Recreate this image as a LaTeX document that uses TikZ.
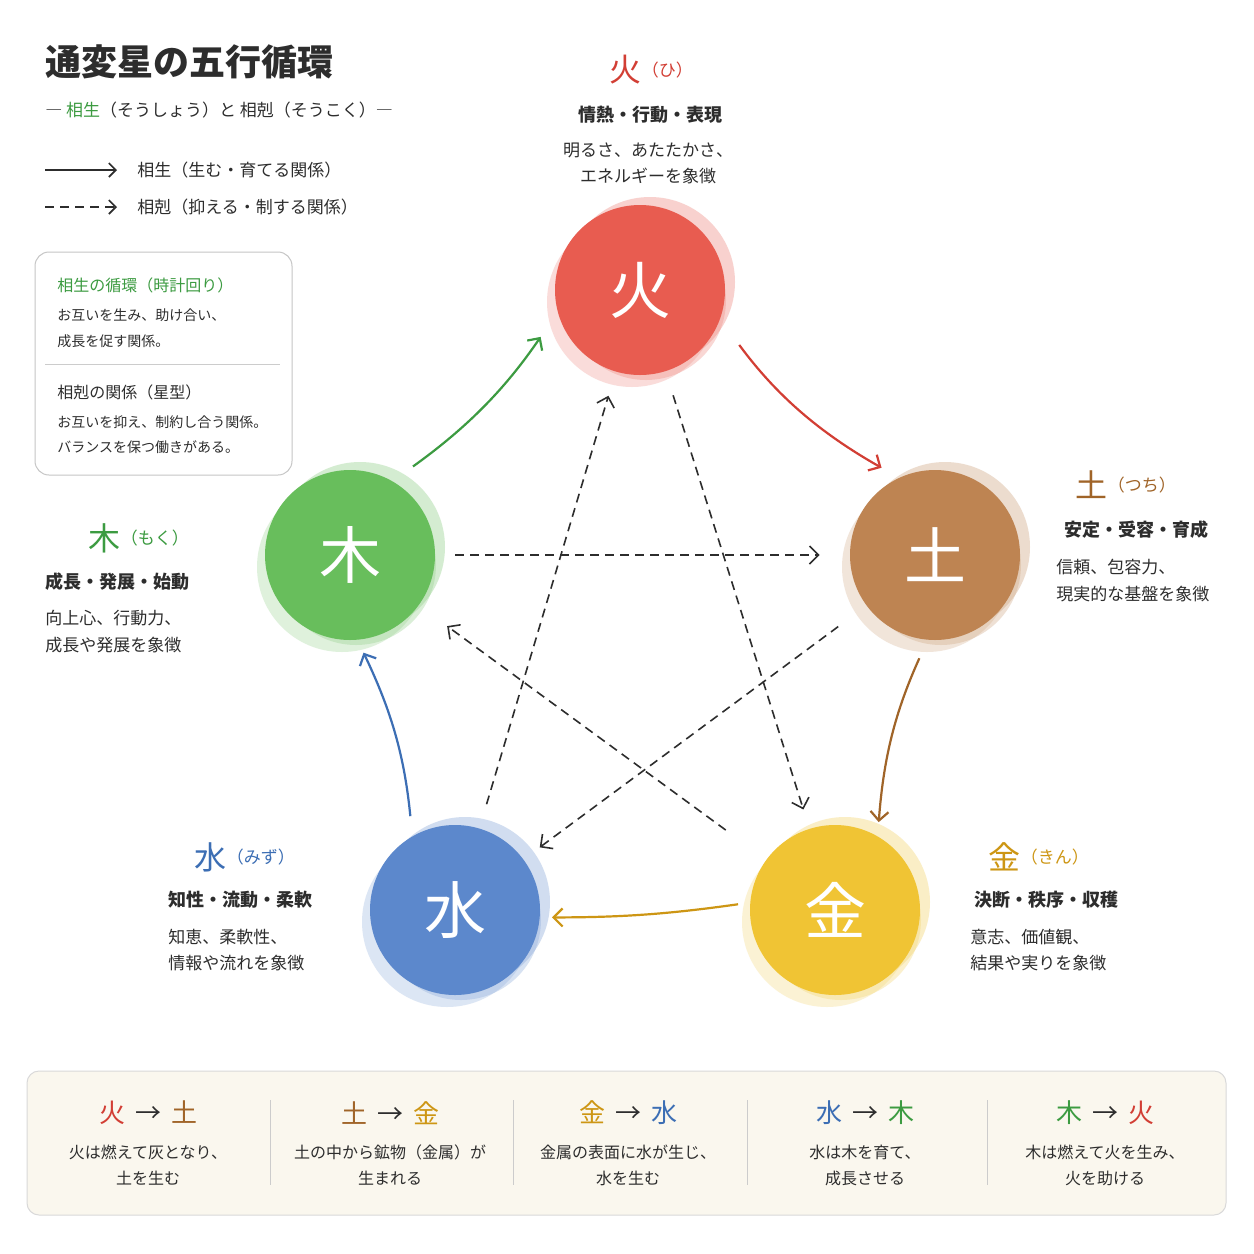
\documentclass[tikz,border=0pt]{standalone}
\usepackage{fontspec}
\setmainfont{Noto Sans CJK JP}
\usetikzlibrary{arrows.meta}
\definecolor{fireC}{RGB}{232,92,80}
\definecolor{earthC}{RGB}{190,132,82}
\definecolor{metalC}{RGB}{240,196,52}
\definecolor{waterC}{RGB}{92,136,204}
\definecolor{woodC}{RGB}{104,190,92}
\definecolor{fireT}{RGB}{210,62,52}
\definecolor{earthT}{RGB}{160,100,40}
\definecolor{metalT}{RGB}{205,150,20}
\definecolor{waterT}{RGB}{60,110,180}
\definecolor{woodT}{RGB}{60,155,65}
\definecolor{inkC}{RGB}{45,45,45}
\definecolor{panelC}{RGB}{250,247,238}
\newcommand{\fsz}[1]{\fontsize{#1}{#1}\selectfont}
\tikzset{every picture/.style={line width=0.75pt}}
\tikzset{
  elem/.style={circle, minimum size=170pt, inner sep=0pt, text=white, font=\fsz{62}},
  blob/.style={circle, minimum size=170pt, inner sep=0pt, opacity=0.35},
  txt/.style={inner sep=0pt, text=inkC, font=\fsz{17}},
  head/.style={inner sep=0pt, text=inkC, font=\fsz{18}\bfseries},
  gen/.style={line width=2.2pt, -{Straight Barb[length=9pt,width=18pt,line width=2.2pt]}},
  ctl/.style={line width=1.6pt, draw=inkC, dash pattern=on 9pt off 6pt, -{Straight Barb[length=9pt,width=18pt,line width=1.6pt]}, shorten >=6pt, shorten <=6pt},
  sep/.style={draw=gray!40, line width=0.8pt}
}
\begin{document}
\begin{tikzpicture}[x=1pt,y=1pt,yscale=-1]
	\useasboundingbox (0,0) rectangle (1254,1254);
	\fill[white] (0,0) rectangle (1254,1254);
	
	% title and legend
	\node[anchor=west, inner sep=0pt, text=inkC, font=\fsz{36}\bfseries] (title) at (45,62) {通変星の五行循環};
	\node[txt, anchor=west] (subtitle) at (45,110) {― \textcolor{woodT}{相生}（そうしょう）と 相剋（そうこく）―};
	\coordinate (lgA) at (45,170);
	\coordinate (lgB) at (117,170);
	\draw[line width=1.6pt, draw=inkC, -{Straight Barb[length=7pt,width=14pt,line width=1.6pt]}] (lgA) -- (lgB);
	\node[txt, anchor=west] (lgtxtA) at (137,170) {相生（生む・育てる関係）};
	\coordinate (lgC) at (45,207);
	\coordinate (lgD) at (117,207);
	\draw[line width=1.6pt, draw=inkC, dash pattern=on 9pt off 6pt, -{Straight Barb[length=7pt,width=14pt,line width=1.6pt]}] (lgC) -- (lgD);
	\node[txt, anchor=west] (lgtxtB) at (137,207) {相剋（抑える・制する関係）};
	
	% info box
	\draw[draw=gray!45, line width=1pt, rounded corners=14pt, fill=white] (35,252) rectangle (292,475);
	\node[anchor=west, inner sep=0pt, text=woodT, font=\fsz{16}] (boxA) at (57,285) {相生の循環（時計回り）};
	\node[txt, anchor=west, font=\fsz{14}] (boxA1) at (57,315) {お互いを生み、助け合い、};
	\node[txt, anchor=west, font=\fsz{14}] (boxA2) at (57,341) {成長を促す関係。};
	\draw[sep] (45,364) -- (280,364);
	\node[txt, anchor=west, font=\fsz{16}] (boxB) at (57,392) {相剋の関係（星型）};
	\node[txt, anchor=west, font=\fsz{14}] (boxB1) at (57,422) {お互いを抑え、制約し合う関係。};
	\node[txt, anchor=west, font=\fsz{14}] (boxB2) at (57,447) {バランスを保つ働きがある。};
	
	% element circles
	\foreach \c/\x/\y in {fireC/640/290, earthC/935/555, metalC/835/910, waterC/455/910, woodC/350/555}{
		\node[blob, fill=\c!60] at (\x-8,\y+12) {};
		\node[blob, fill=\c!80] at (\x+10,\y-8) {};
		\node[blob, fill=\c!70, minimum size=160pt] at (\x+6,\y+10) {};
	}
	\node[elem, fill=fireC] (fire) at (640,290) {火};
	\node[elem, fill=earthC] (earth) at (935,555) {土};
	\node[elem, fill=metalC] (metal) at (835,910) {金};
	\node[elem, fill=waterC] (water) at (455,910) {水};
	\node[elem, fill=woodC] (wood) at (350,555) {木};
	
	% generating cycle
	\draw[gen, draw=fireT, shorten <=32pt, shorten >=20pt] (fire.-20) to[bend left=12] (earth.115);
	\draw[gen, draw=earthT, shorten <=20pt, shorten >=14pt] (earth.-95) to[bend left=10] (metal.60);
	\draw[gen, draw=metalT, shorten <=12pt, shorten >=12pt] (metal.175) to[bend right=4] (water.-5);
	\draw[gen, draw=waterT, shorten <=20pt, shorten >=14pt] (water.120) to[bend left=10] (wood.-85);
	\draw[gen, draw=woodT, shorten <=25pt, shorten >=30pt] (wood.60) to[bend left=10] (fire.-165);
	
	% controlling star
	\draw[ctl, shorten <=25pt, shorten >=20pt] (fire) -- (metal);
	\draw[ctl, shorten <=50pt, shorten >=35pt] (metal) -- (wood);
	\draw[ctl, shorten <=20pt, shorten >=30pt] (wood) -- (earth);
	\draw[ctl, shorten <=35pt, shorten >=20pt] (earth) -- (water);
	\draw[ctl, shorten <=25pt, shorten >=25pt] (water) -- (fire);
	
	% element labels
	\node[inner sep=0pt, text=fireT, font=\fsz{32}] (fireL) at (625,70) {火};
	\node[inner sep=0pt, text=fireT, font=\fsz{17}, anchor=west] (fireR) at (fireL.east) {（ひ）};
	\node[head] (fireH) at (650,115) {情熱・行動・表現};
	\node[txt] (fireD1) at (648,150) {明るさ、あたたかさ、};
	\node[txt] (fireD2) at (648,176) {エネルギーを象徴};
	
	\node[inner sep=0pt, text=earthT, font=\fsz{32}] (earthL) at (1091,485) {土};
	\node[inner sep=0pt, text=earthT, font=\fsz{17}, anchor=west] (earthR) at (earthL.east) {（つち）};
	\node[head] (earthH) at (1136,530) {安定・受容・育成};
	\node[txt, anchor=west] (earthD1) at (1056,567) {信頼、包容力、};
	\node[txt, anchor=west] (earthD2) at (1056,594) {現実的な基盤を象徴};
	
	\node[inner sep=0pt, text=metalT, font=\fsz{32}] (metalL) at (1004,857) {金};
	\node[inner sep=0pt, text=metalT, font=\fsz{17}, anchor=west] (metalR) at (metalL.east) {（きん）};
	\node[head] (metalH) at (1046,900) {決断・秩序・収穫};
	\node[txt, anchor=west] (metalD1) at (970,937) {意志、価値観、};
	\node[txt, anchor=west] (metalD2) at (970,963) {結果や実りを象徴};
	
	\node[inner sep=0pt, text=waterT, font=\fsz{32}] (waterL) at (210,857) {水};
	\node[inner sep=0pt, text=waterT, font=\fsz{17}, anchor=west] (waterR) at (waterL.east) {（みず）};
	\node[head] (waterH) at (240,900) {知性・流動・柔軟};
	\node[txt, anchor=west] (waterD1) at (168,937) {知恵、柔軟性、};
	\node[txt, anchor=west] (waterD2) at (168,963) {情報や流れを象徴};
	
	\node[inner sep=0pt, text=woodT, font=\fsz{32}] (woodL) at (104,538) {木};
	\node[inner sep=0pt, text=woodT, font=\fsz{17}, anchor=west] (woodR) at (woodL.east) {（もく）};
	\node[head, anchor=west] (woodH) at (45,582) {成長・発展・始動};
	\node[txt, anchor=west] (woodD1) at (45,618) {向上心、行動力、};
	\node[txt, anchor=west] (woodD2) at (45,645) {成長や発展を象徴};
	
	% bottom panel
	\draw[draw=gray!30, line width=1pt, rounded corners=12pt, fill=panelC] (27,1071) rectangle (1226,1215);
	\foreach \x in {270,513,747,987}{
		\draw[sep] (\x,1100) -- (\x,1185);
	}
	\foreach \x/\ca/\a/\cb/\b/\la/\lb in {
		148/fireT/火/earthT/土/火は燃えて灰となり、/土を生む,
		390/earthT/土/metalT/金/土の中から鉱物（金属）が/生まれる,
		628/metalT/金/waterT/水/金属の表面に水が生じ、/水を生む,
		865/waterT/水/woodT/木/水は木を育て、/成長させる,
		1105/woodT/木/fireT/火/木は燃えて火を生み、/火を助ける}{
		\node[inner sep=0pt, font=\fsz{26}] at (\x,1113) {\textcolor{\ca}{\a}\hspace{10pt}\textcolor{inkC}{→}\hspace{10pt}\textcolor{\cb}{\b}};
		\node[txt, font=\fsz{16}] at (\x,1152) {\la};
		\node[txt, font=\fsz{16}] at (\x,1178) {\lb};
	}
\end{tikzpicture}
\end{document}
